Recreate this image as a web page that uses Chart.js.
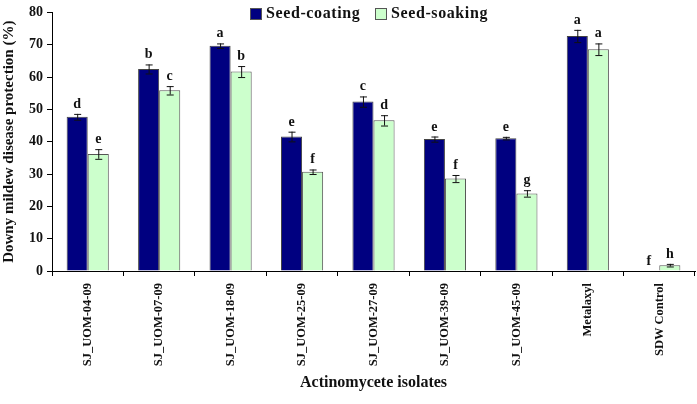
<!DOCTYPE html>
<html lang="en">
<head>
  <meta charset="UTF-8" />
  <title>Downy mildew disease protection</title>
  <script src="https://cdn.jsdelivr.net/npm/chart.js"></script>
  <style>
    html, body { margin: 0; padding: 0; background: #fff; }
    #wrap { width: 697px; height: 404px; position: relative; }
  </style>
</head>
<body>
  <div id="wrap"><canvas id="chart"></canvas></div>

  <script>
    const isolates = ['SJ_UOM-04-09', 'SJ_UOM-07-09', 'SJ_UOM-18-09', 'SJ_UOM-25-09', 'SJ_UOM-27-09',
                      'SJ_UOM-39-09', 'SJ_UOM-45-09', 'Metalaxyl', 'SDW Control'];
    const coating = [47.7, 62.5, 69.7, 41.6, 52.4, 40.8, 41.1, 72.7, 0];
    const coatingErr = [0.9, 1.4, 0.7, 1.5, 1.6, 0.8, 0.4, 1.9, 0];
    const coatingLetters = ['d', 'b', 'a', 'e', 'c', 'e', 'e', 'a', 'f'];
    const soaking = [36.2, 55.9, 61.7, 30.7, 46.6, 28.6, 24.0, 68.6, 1.8];
    const soakingErr = [1.5, 1.3, 1.7, 0.7, 1.6, 1.1, 1.0, 1.8, 0.4];
    const soakingLetters = ['e', 'c', 'b', 'f', 'd', 'f', 'g', 'a', 'h'];
    const yTicks = [0, 10, 20, 30, 40, 50, 60, 70, 80];

    const serif = '"Liberation Serif", "Times New Roman", serif';

    // error bars + significance letters
    const errorBars = {
      id: 'errorBars',
      afterDatasetsDraw(chart) {
        const ctx = chart.ctx;
        const y = chart.scales.y;
        const sets = [[coatingErr, coatingLetters], [soakingErr, soakingLetters]];
        sets.forEach(([errs, letters], di) => {
          const meta = chart.getDatasetMeta(di);
          meta.data.forEach((bar, i) => {
            const v = chart.data.datasets[di].data[i];
            const e = errs[i];
            const top = y.getPixelForValue(v + e);
            ctx.save();
            if (e > 0) {
              const bot = y.getPixelForValue(v - e);
              ctx.strokeStyle = '#111';
              ctx.lineWidth = 1;
              ctx.beginPath();
              ctx.moveTo(bar.x + 0.5, top);
              ctx.lineTo(bar.x + 0.5, bot);
              ctx.moveTo(bar.x - 3, top + 0.5);
              ctx.lineTo(bar.x + 4, top + 0.5);
              ctx.moveTo(bar.x - 3, bot + 0.5);
              ctx.lineTo(bar.x + 4, bot + 0.5);
              ctx.stroke();
            }
            ctx.fillStyle = '#111';
            ctx.font = 'bold 14px ' + serif;
            ctx.textAlign = 'center';
            ctx.textBaseline = 'alphabetic';
            ctx.fillText(letters[i], bar.x, top - 6);
            ctx.restore();
          });
        });
      }
    };

    // legend drawn inside the plot, top centre
    const innerLegend = {
      id: 'innerLegend',
      afterDraw(chart) {
        const ctx = chart.ctx;
        const items = [[250, 0], [375, 1]];
        ctx.save();
        ctx.font = 'bold 16px ' + serif;
        ctx.letterSpacing = '0.6px';
        ctx.textBaseline = 'middle';
        items.forEach(([x, di]) => {
          const ds = chart.data.datasets[di];
          ctx.fillStyle = ds.backgroundColor;
          ctx.fillRect(x, 8, 11, 11);
          ctx.strokeStyle = '#555';
          ctx.lineWidth = 1;
          ctx.strokeRect(x + 0.5, 8.5, 11, 11);
          ctx.fillStyle = '#111';
          ctx.fillText(ds.label, x + 16, 14);
        });
        ctx.restore();
      }
    };

    new Chart(document.getElementById('chart'), {
      type: 'bar',
      data: {
        labels: isolates,
        datasets: [
          {
            label: 'Seed-coating',
            data: coating,
            backgroundColor: '#000080',
            borderColor: '#444',
            borderWidth: 1
          },
          {
            label: 'Seed-soaking',
            data: soaking,
            backgroundColor: '#ccffcc',
            borderColor: '#555',
            borderWidth: 1
          }
        ]
      },
      options: {
        responsive: true,
        maintainAspectRatio: false,
        animation: false,
        layout: { padding: { top: 8, right: 2, left: 0, bottom: 0 } },
        datasets: { bar: { categoryPercentage: 0.59, barPercentage: 1 } },
        plugins: {
          legend: { display: false },
          tooltip: { enabled: false }
        },
        scales: {
          x: {
            grid: { display: true, drawOnChartArea: false, color: '#000', tickLength: 5, offset: true },
            border: { color: '#000', width: 1 },
            ticks: {
              minRotation: 90,
              maxRotation: 90,
              padding: 7,
              color: '#111',
              font: { family: serif, size: 12.5, weight: 'bold' }
            },
            title: {
              display: true,
              text: 'Actinomycete isolates',
              color: '#111',
              font: { family: serif, size: 16, weight: 'bold' },
              padding: { top: 14, bottom: 12 }
            },
            afterFit(scale) { scale.height = 133; }
          },
          y: {
            min: 0,
            max: 80,
            afterBuildTicks(scale) { scale.ticks = yTicks.map(v => ({ value: v })); },
            grid: { display: true, drawOnChartArea: false, color: '#000', tickLength: 5 },
            border: { color: '#000', width: 1 },
            ticks: {
              padding: 4,
              color: '#111',
              font: { family: serif, size: 14, weight: 'bold' }
            },
            title: {
              display: true,
              text: 'Downy mildew disease protection (%)',
              color: '#111',
              font: { family: serif, size: 15, weight: 'bold' },
              padding: { top: 0, bottom: 4 }
            },
            afterFit(scale) { scale.width = 52; }
          }
        }
      },
      plugins: [errorBars, innerLegend]
    });
  </script>
</body>
</html>
